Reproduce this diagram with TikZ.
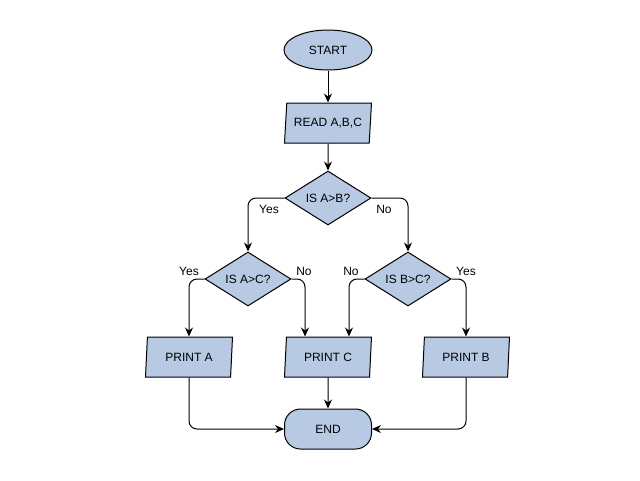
\documentclass[tikz,border=0pt]{standalone}
\usepackage{fontspec}
\setmainfont{Liberation Sans}
\usetikzlibrary{shapes.geometric,arrows.meta,calc}
\definecolor{boxfill}{RGB}{183,201,227}
\begin{document}
\begin{tikzpicture}[x=1pt,y=-1pt,
  every node/.style={font=\fontsize{12}{14}\selectfont},
  shp/.style={draw=black,fill=boxfill,line width=1pt,inner sep=0pt},
  term/.style={shp,ellipse,minimum width=88,minimum height=40},
  endbox/.style={shp,rectangle,rounded corners=16pt,minimum width=87,minimum height=40},
  io/.style={shp,trapezium,trapezium left angle=77,trapezium right angle=103,
             minimum width=87,minimum height=40,trapezium stretches body},
  decide/.style={shp,diamond,aspect=1.67,minimum width=86,minimum height=54},
  arr/.style={draw=black,line width=1pt,-{Stealth[length=9pt,width=8pt,inset=3pt]},rounded corners=8pt},
  lbl/.style={inner sep=0pt}]
\useasboundingbox (0,0) rectangle (640,480);

% shapes
\node[term]   (start) at (328,50)  {START};
\node[io]     (read)  at (328,123) {READ A,B,C};
\node[decide] (ab)    at (328,198) {IS A>B?};
\node[decide] (ac)    at (248,279) {IS A>C?};
\node[decide] (bc)    at (408,279) {IS B>C?};
\node[io]     (pa)    at (189,357) {PRINT A};
\node[io]     (pc)    at (328,357) {PRINT C};
\node[io]     (pb)    at (466,357) {PRINT B};
\node[endbox] (en)    at (328,429) {END};

% connectors
\draw[arr] (start) -- (read);
\draw[arr] (read) -- (ab);
\draw[arr] (ab.west) -| (ac.north);
\draw[arr] (ab.east) -| (bc.north);
\draw[arr] (ac.west) -| (pa.north);
\draw[arr] (ac.east) -| ([xshift=-23pt]pc.north);
\draw[arr] (bc.west) -| ([xshift=21pt]pc.north);
\draw[arr] (bc.east) -| (pb.north);
\draw[arr] (pc) -- (en);
\draw[arr] (pa.south) |- (en.west);
\draw[arr] (pb.south) |- (en.east);

% branch labels
\node[lbl] (y1) at (269,209) {Yes};
\node[lbl] (n1) at (384,209) {No};
\node[lbl] (y2) at (189,271) {Yes};
\node[lbl] (n2) at (304,271) {No};
\node[lbl] (n3) at (351,271) {No};
\node[lbl] (y3) at (466,271) {Yes};
\end{tikzpicture}
\end{document}
